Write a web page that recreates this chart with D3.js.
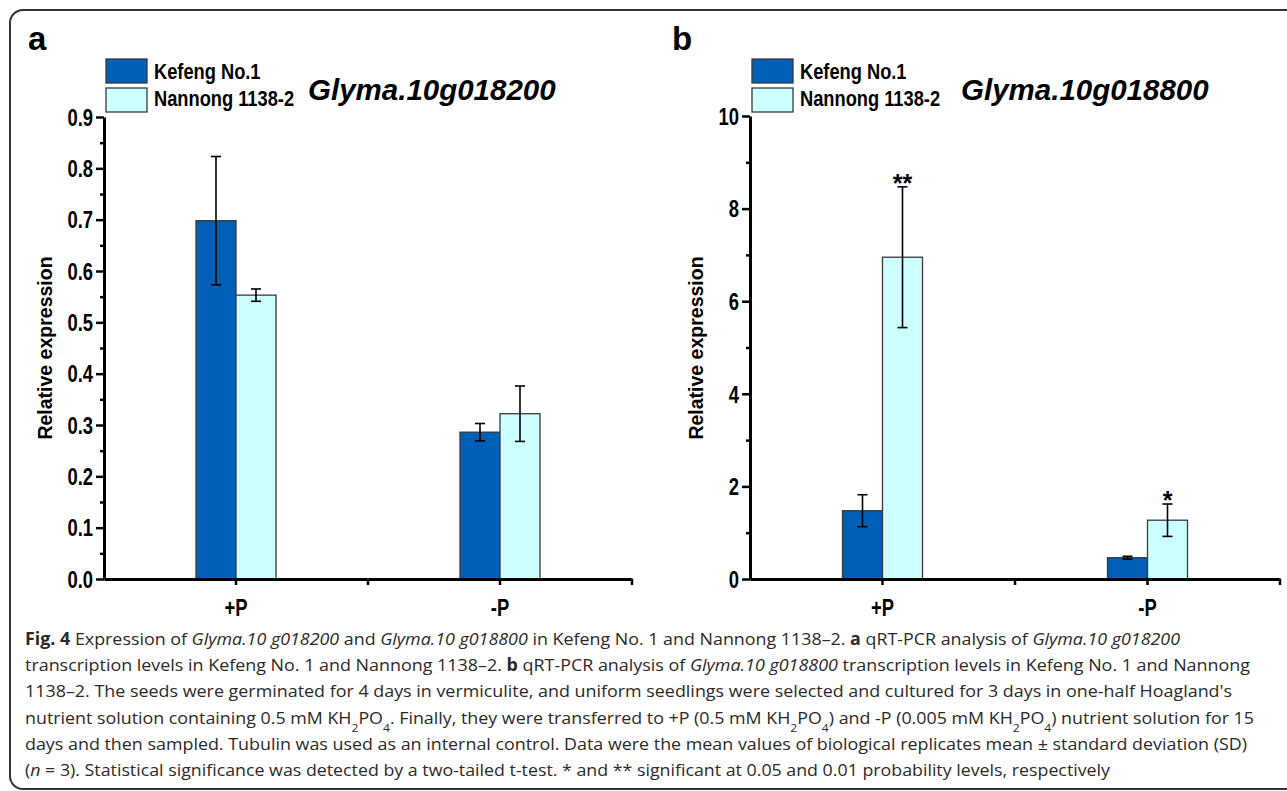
<!DOCTYPE html>
<html>
<head>
<meta charset="utf-8">
<script src="https://cdn.jsdelivr.net/npm/d3@7"></script>
<style>
  html, body { margin: 0; padding: 0; background: #fff; }
  svg { display: block; }
  .narrow { font-family: "Liberation Sans Narrow", "Arial Narrow", "Liberation Sans", Arial, sans-serif; font-weight: bold; }
  .arialb { font-family: "Liberation Sans", Arial, sans-serif; font-weight: bold; }
  .cap { font-family: "Open Sans", "Noto Sans", sans-serif; font-size: 17px; fill: #2a2a2a; }
</style>
</head>
<body>
<svg id="chart" width="1287" height="791"></svg>
<script>
// ---------- data ----------
const categories = ["+P", "-P"];
const seriesNames = ["Kefeng No.1", "Nannong 1138-2"];
const seriesColors = ["#0060B8", "#CCFFFF"];

// panel a : Glyma.10g018200
const aTitle = "Glyma.10g018200";
const aKefeng = [0.698, 0.286];
const aKefengSD = [0.125, 0.017];
const aNannong = [0.553, 0.322];
const aNannongSD = [0.012, 0.054];
const aMajorTicks = [0, 0.1, 0.2, 0.3, 0.4, 0.5, 0.6, 0.7, 0.8, 0.9];
const aMinorTicks = [0.05, 0.15, 0.25, 0.35, 0.45, 0.55, 0.65, 0.75, 0.85];
const aStars = [["", ""], ["", ""]];

// panel b : Glyma.10g018800
const bTitle = "Glyma.10g018800";
const bKefeng = [1.475, 0.46];
const bKefengSD = [0.345, 0.03];
const bNannong = [6.95, 1.27];
const bNannongSD = [1.52, 0.35];
const bMajorTicks = [0, 2, 4, 6, 8, 10];
const bMinorTicks = [1, 3, 5, 7, 9];
const bStars = [["", ""], ["**", "*"]];

const yLabel = "Relative expression";

// ---------- drawing ----------
const svg = d3.select("#chart");

// rounded frame
svg.append("rect")
  .attr("x", 10).attr("y", 10).attr("width", 1300).attr("height", 779)
  .attr("rx", 13).attr("ry", 13)
  .attr("fill", "none").attr("stroke", "#333").attr("stroke-width", 2);

function panel(cfg) {
  const g = svg.append("g");
  const y = d3.scaleLinear().domain([0, cfg.max]).range([cfg.bottom, cfg.top]);
  const x = d3.scaleBand().domain(categories).range([cfg.left, cfg.right]);
  const x1 = d3.scaleBand().domain(seriesNames).range([-40, 40]);

  const vals = [cfg.kef, cfg.nan];
  const sds = [cfg.kefSD, cfg.nanSD];

  // bars
  seriesNames.forEach((s, si) => {
    categories.forEach((c, ci) => {
      const cx = x(c) + x.bandwidth() / 2 + x1(s);
      g.append("rect")
        .attr("x", cx).attr("width", x1.bandwidth())
        .attr("y", y(vals[si][ci])).attr("height", y(0) - y(vals[si][ci]))
        .attr("fill", seriesColors[si]).attr("stroke", "#3a3a3a").attr("stroke-width", 1.3);
    });
  });
  // error bars
  seriesNames.forEach((s, si) => {
    categories.forEach((c, ci) => {
      const cx = x(c) + x.bandwidth() / 2 + x1(s) + x1.bandwidth() / 2;
      const v = vals[si][ci], e = sds[si][ci];
      const eb = g.append("g").attr("stroke", "#000").attr("stroke-width", 1.6);
      eb.append("line").attr("x1", cx).attr("x2", cx).attr("y1", y(v + e)).attr("y2", y(v - e));
      eb.append("line").attr("x1", cx - 5).attr("x2", cx + 5).attr("y1", y(v + e)).attr("y2", y(v + e));
      eb.append("line").attr("x1", cx - 5).attr("x2", cx + 5).attr("y1", y(v - e)).attr("y2", y(v - e));
      const star = cfg.stars[si][ci];
      if (star) {
        g.append("text").attr("class", "arialb")
          .attr("x", cx).attr("y", y(v + e) + 5)
          .attr("text-anchor", "middle").attr("font-size", 25).text(star);
      }
    });
  });

  // y axis minor ticks
  const yMinor = g.append("g").attr("transform", `translate(${cfg.left},0)`)
    .call(d3.axisLeft(y).tickValues(cfg.minor).tickSize(4).tickFormat(""));
  yMinor.select(".domain").remove();
  yMinor.selectAll("line").attr("stroke-width", 2.5);
  // y axis major
  const yAx = g.append("g").attr("transform", `translate(${cfg.left},0)`)
    .call(d3.axisLeft(y).tickValues(cfg.major).tickSize(8).tickSizeOuter(0).tickPadding(3).tickFormat(cfg.fmt));
  yAx.select(".domain").attr("stroke-width", 3);
  yAx.selectAll(".tick line").attr("stroke-width", 2.5);
  yAx.selectAll(".tick text").attr("class", "narrow").attr("data-cond", 0.8)
    .attr("font-size", 23).attr("fill", "#000").attr("dy", "0.36em");

  // x axis
  const xAx = g.append("g").attr("transform", `translate(0,${cfg.bottom})`)
    .call(d3.axisBottom(x).tickSize(6).tickSizeOuter(0));
  xAx.select(".domain").attr("stroke-width", 3);
  xAx.selectAll(".tick line").attr("stroke-width", 2.5);
  xAx.selectAll(".tick text").attr("class", "narrow").attr("data-cond", 0.8)
    .attr("font-size", 23).attr("fill", "#000").attr("dy", null).attr("y", 37);
  // boundary ticks
  categories.forEach(c => {
    const bx = x(c) + x.bandwidth();
    xAx.append("line").attr("x1", bx).attr("x2", bx).attr("y1", 0).attr("y2", 6)
      .attr("stroke", "#000").attr("stroke-width", 2.5);
  });

  // y label
  g.append("text").attr("class", "arialb").attr("font-size", 19.5)
    .attr("transform", `translate(${cfg.ylabX},348) rotate(-90)`)
    .attr("text-anchor", "middle").text(yLabel);

  // panel letter
  g.append("text").attr("class", "arialb").attr("font-size", 33)
    .attr("x", cfg.letterX).attr("y", 50).text(cfg.letter);

  // legend
  seriesNames.forEach((s, si) => {
    g.append("rect").attr("x", cfg.legX).attr("y", 59 + si * 29).attr("width", 41).attr("height", 24)
      .attr("fill", seriesColors[si]).attr("stroke", "#3a3a3a").attr("stroke-width", 1.3);
    g.append("text").attr("class", "narrow").attr("data-cond", 0.83).attr("font-size", 22)
      .attr("x", cfg.legX + 48).attr("y", 79 + si * 27).text(s);
  });
  // gene title
  g.append("text").attr("class", "arialb").attr("font-style", "italic").attr("font-size", 29.5)
    .attr("x", cfg.titleX).attr("y", 100).text(cfg.title);
}

panel({ left: 104, right: 632, bottom: 579, top: 117, max: 0.9, major: aMajorTicks, minor: aMinorTicks,
  fmt: d3.format(".1f"), kef: aKefeng, kefSD: aKefengSD, nan: aNannong, nanSD: aNannongSD, stars: aStars,
  ylabX: 52, letter: "a", letterX: 28, legX: 106, title: aTitle, titleX: 308 });

panel({ left: 750, right: 1280, bottom: 579, top: 116, max: 10, major: bMajorTicks, minor: bMinorTicks,
  fmt: d3.format("d"), kef: bKefeng, kefSD: bKefengSD, nan: bNannong, nanSD: bNannongSD, stars: bStars,
  ylabX: 703, letter: "b", letterX: 672, legX: 752, title: bTitle, titleX: 961 });

// condense bold text to mimic the narrow face of the original
svg.selectAll("text.narrow").each(function () {
  const f = +this.getAttribute("data-cond");
  const w = this.getComputedTextLength();
  d3.select(this).attr("textLength", w * f).attr("lengthAdjust", "spacingAndGlyphs");
});

// ---------- caption ----------
const captionLines = [
  [["b", "Fig. 4"], ["", " Expression of "], ["i", "Glyma.10 g018200"], ["", " and "], ["i", "Glyma.10 g018800"], ["", " in Kefeng No. 1 and Nannong 1138–2. "], ["b", "a"], ["", " qRT-PCR analysis of "], ["i", "Glyma.10 g018200"]],
  [["", "transcription levels in Kefeng No. 1 and Nannong 1138–2. "], ["b", "b"], ["", " qRT-PCR analysis of "], ["i", "Glyma.10 g018800"], ["", " transcription levels in Kefeng No. 1 and Nannong"]],
  [["", "1138–2. The seeds were germinated for 4 days in vermiculite, and uniform seedlings were selected and cultured for 3 days in one-half Hoagland's"]],
  [["", "nutrient solution containing 0.5 mM KH"], ["s", "2"], ["", "PO"], ["s", "4"], ["", ". Finally, they were transferred to +P (0.5 mM KH"], ["s", "2"], ["", "PO"], ["s", "4"], ["", ") and -P (0.005 mM KH"], ["s", "2"], ["", "PO"], ["s", "4"], ["", ") nutrient solution for 15"]],
  [["", "days and then sampled. Tubulin was used as an internal control. Data were the mean values of biological replicates mean ± standard deviation (SD)"]],
  [["", "("], ["i", "n"], ["", " = 3). Statistical significance was detected by a two-tailed t-test. * and ** significant at 0.05 and 0.01 probability levels, respectively"]]
];
const captionWidths = [1155, 1225, 1207, 1229, 1222, 1085];

captionLines.forEach((line, li) => {
  const t = svg.append("text").attr("class", "cap")
    .attr("x", 25).attr("y", 645 + li * 26.2)
    .attr("textLength", captionWidths[li]).attr("lengthAdjust", "spacingAndGlyphs");
  line.forEach(([kind, str]) => {
    const sp = t.append("tspan").text(str);
    if (kind === "b") sp.attr("font-weight", "bold");
    if (kind === "i") sp.attr("font-style", "italic");
    if (kind === "s") sp.attr("font-size", 11.5).attr("baseline-shift", "sub");
  });
});
</script>
</body>
</html>
